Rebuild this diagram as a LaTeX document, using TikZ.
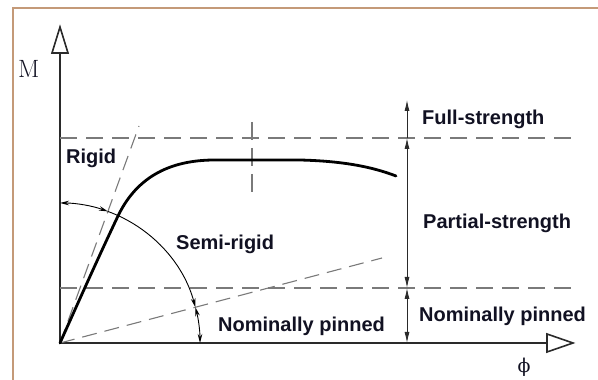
\documentclass[tikz,border=0pt]{standalone}
\usepackage{fontspec}
\newfontfamily\lab{Liberation Sans}
\newfontfamily\grk{DejaVu Serif}
\usetikzlibrary{arrows.meta,calc}
\definecolor{framec}{HTML}{C49A78}
\definecolor{axisc}{HTML}{2A2A2A}
\definecolor{dashc}{HTML}{7A7A7A}
\definecolor{txtc}{HTML}{111122}
\tikzset{
  axisline/.style={axisc, line width=2pt},
  hollowtip/.style={axisc, line width=1.6pt, fill=white, line join=miter},
  guide/.style={dashc, line width=1.2pt, dash pattern=on 17pt off 9pt},
  slope/.style={dashc, line width=1.1pt, dash pattern=on 15pt off 8pt},
  curve/.style={black, line width=2.8pt, line cap=round},
  arcline/.style={black, line width=0.9pt},
  arcarrow/.style={arcline, -{Stealth[length=9pt,width=4.5pt]}},
  arcboth/.style={arcline, {Stealth[length=9pt,width=4.5pt]}-{Stealth[length=9pt,width=4.5pt]}},
  vline/.style={axisc, line width=0.9pt},
  varrow/.style={vline, -{Latex[length=11pt,width=5pt]}},
  vboth/.style={vline, {Latex[length=11pt,width=5pt]}-{Latex[length=11pt,width=5pt]}},
  lbl/.style={txtc, font=\lab\bfseries\fontsize{20}{20}\selectfont, anchor=base west, inner sep=0pt},
}
\begin{document}
\begin{tikzpicture}[x=1pt,y=1pt]
\useasboundingbox (0,0) rectangle (598,380);
% frame
\coordinate (fb) at (13,0);
\coordinate (fc) at (13,372);
\coordinate (fr) at (598,372);
\draw[framec, line width=1.6pt] (fb) -- (fc) -- (fr);
% axes
\coordinate (O) at (60,37);
\coordinate (ytop) at (60,327);
\coordinate (xend) at (547,37);
\draw[axisline] (O) -- (ytop);
\draw[axisline] (O) -- (xend);
\coordinate (yl) at (52,327);
\coordinate (yr) at (68,327);
\coordinate (yt) at (60,353);
\draw[hollowtip] (yl) -- (yt) -- (yr) -- cycle;
\coordinate (xu) at (547,46);
\coordinate (xd) at (547,28);
\coordinate (xt) at (573,37);
\draw[hollowtip] (xu) -- (xt) -- (xd) -- cycle;
\node[txtc, anchor=base west, inner sep=0pt, font=\fontsize{25}{25}\selectfont] (M) at (18,302) {M};
\node[txtc, inner sep=0pt, font=\grk\fontsize{19}{19}\selectfont] (phi) at (524,13) {ϕ};
% horizontal guides
\coordinate (h1a) at (60,242);
\coordinate (h1b) at (572,242);
\coordinate (h2a) at (60,92);
\coordinate (h2b) at (572,92);
\draw[guide] (h1a) -- (h1b);
\draw[guide] (h2a) -- (h2b);
% vertical dashed mark
\coordinate (va) at (252,258);
\coordinate (vb) at (252,183);
\draw[guide, dash pattern=on 18pt off 8pt] (va) -- (vb);
% slope lines
\coordinate (rig) at (139,254);
\coordinate (semi) at (382,122);
\draw[slope] (O) -- (rig);
\draw[slope] (O) -- (semi);
% arc
\coordinate (a90) at (60,177);
\coordinate (a70) at ($(O)+(70:140)$);
\draw[arcboth] (a90) arc[start angle=90, end angle=70, radius=140];
\draw[arcarrow] (a70) arc[start angle=70, end angle=14.79, radius=140];
\coordinate (a15) at ($(O)+(14.79:140)$);
\draw[arcboth] (a15) arc[start angle=14.79, end angle=0, radius=140];
% moment-rotation curve
\coordinate (c1) at (118,164);
\coordinate (c2) at (215,220);
\coordinate (c3) at (300,220);
\coordinate (c4) at (396,204);
\draw[curve] (O) .. controls (78,77) and (98,122) .. (c1)
  .. controls (140,210) and (180,220) .. (c2) -- (c3)
  .. controls (340,219) and (370,214) .. (c4);
% vertical strength arrows
\coordinate (s0) at (407,37);
\coordinate (s1) at (407,92);
\coordinate (s2) at (407,242);
\coordinate (s3) at (407,280);
\draw[vboth] (s0) -- (s1);
\draw[vboth] (s1) -- (s2);
\draw[varrow] (s2) -- (s3);
% labels
\node[lbl] (rigid) at (66,216) {Rigid};
\node[lbl] (semir) at (176,130) {Semi-rigid};
\node[lbl] (npl) at (218,48) {Nominally pinned};
\node[lbl] (full) at (422,255) {Full-strength};
\node[lbl] (part) at (423,151) {Partial-strength};
\node[lbl] (npr) at (419,58) {Nominally pinned};
\end{tikzpicture}
\end{document}
